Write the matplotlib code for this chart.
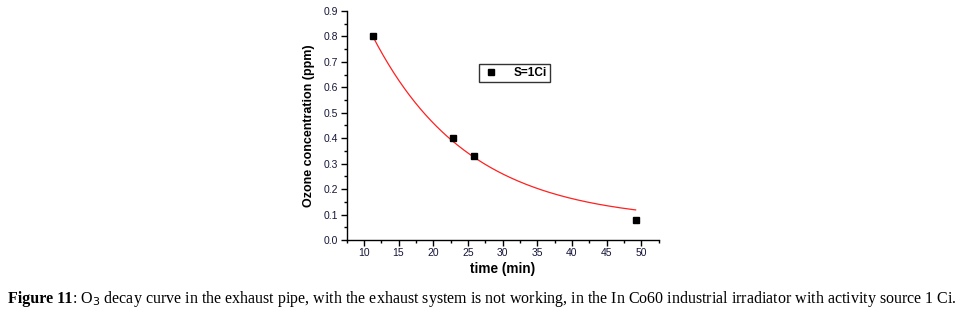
import numpy as np
import matplotlib
matplotlib.use("Agg")
import matplotlib.pyplot as plt
from matplotlib.ticker import MultipleLocator

# Data
time_min = [11.3, 22.8, 25.9, 49.2]
ozone_ppm = [0.80, 0.40, 0.33, 0.08]
series_label = "S=1Ci"

# Exponential decay fit parameters (y = y0 + A*exp(-k*x))
fit_y0 = 0.071
fit_A = 0.729 / np.exp(-0.0722 * 11.3)
fit_k = 0.0722
fit_range = (11.3, 49.2)

x_ticks = [10, 15, 20, 25, 30, 35, 40, 45, 50]
y_ticks = [0.0, 0.1, 0.2, 0.3, 0.4, 0.5, 0.6, 0.7, 0.8, 0.9]

plt.rcParams['font.family'] = ['Liberation Sans', 'DejaVu Sans']

fig = plt.figure(figsize=(9.58, 3.17), dpi=100)
ax = fig.add_axes([346.5/958, 1-240/317, (658.5-346.5)/958, (240-11)/317])

xf = np.linspace(fit_range[0], fit_range[1], 200)
ax.plot(xf, fit_y0 + fit_A*np.exp(-fit_k*xf), color='#ff2020', lw=0.9, zorder=2)
ax.plot(time_min, ozone_ppm, 's', color='black', ms=4.5, label=series_label, zorder=3)

ax.set_xlim(7.5, 52.5)
ax.set_ylim(0.0, 0.9)
ax.set_xticks(x_ticks)
ax.xaxis.set_minor_locator(MultipleLocator(2.5))
ax.set_yticks(y_ticks)
ax.set_yticklabels([f"{v:.1f}" for v in y_ticks])
ax.yaxis.set_minor_locator(MultipleLocator(0.05))
ax.spines['top'].set_visible(False)
ax.spines['right'].set_visible(False)
for s in ['left', 'bottom']:
    ax.spines[s].set_linewidth(1.0)
ax.tick_params(which='major', direction='out', length=4, width=1.0, labelsize=7.5, pad=2, colors='black')
ax.tick_params(which='minor', direction='out', length=2.5, width=1.0)
ax.tick_params(axis='both', labelcolor='#15153a')

ax.set_xlabel("time (min)", fontsize=9.8, fontweight='bold', labelpad=3)
ax.set_ylabel("Ozone concentration (ppm)", fontsize=9, fontweight='bold', labelpad=6)

leg = ax.legend(loc='upper left', bbox_to_anchor=((479-346.5)/312, 1-(64-11)/229),
                borderaxespad=0, frameon=True, fancybox=False, edgecolor='black',
                handlelength=1.5, handletextpad=1.2, borderpad=0.25,
                prop={'weight': 'bold', 'size': 8.5})
leg.get_frame().set_linewidth(1.0)

# Caption
cap_y = 1 - 299/317
t1 = fig.text(8/958, cap_y, "Figure 11", fontsize=11.5, fontweight='bold',
              family=['Liberation Serif', 'DejaVu Serif'], va='center', ha='left')
fig.canvas.draw()
r = fig.canvas.get_renderer()
bb = t1.get_window_extent(renderer=r)
fig.text(bb.x1/958, cap_y,
         ": O$_3$ decay curve in the exhaust pipe, with the exhaust system is not working, in the In Co60 industrial irradiator with activity source 1 Ci.",
         fontsize=11.5, family=['Liberation Serif', 'DejaVu Serif'], va='center', ha='left')

fig.savefig("out.png", dpi=100)
